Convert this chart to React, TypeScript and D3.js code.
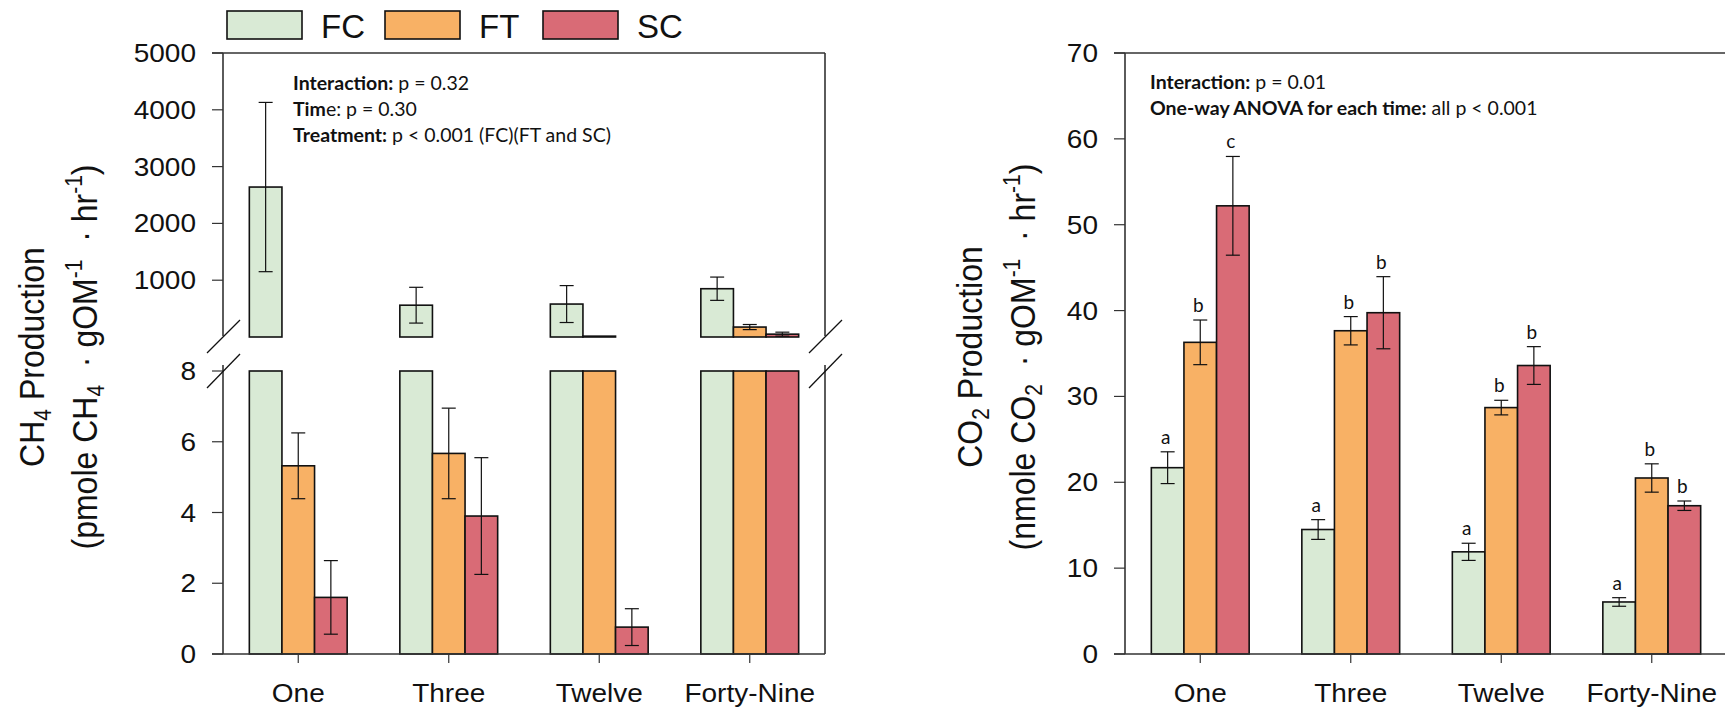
import React from "react";
import * as d3 from "d3";

const categories = ["One", "Three", "Twelve", "Forty-Nine"];
const treatments = ["FC", "FT", "SC"];
const colors = ["#d9ead5", "#f8b165", "#d96b76"];

// CH4 production (pmole CH4 · gOM-1 · hr-1)
const ch4FC = [2640, 560, 580, 850];
const ch4FCErr = [1490, 315, 325, 205];
const ch4FT = [5.32, 5.67, 15, 175];
const ch4FTErr = [0.93, 1.28, 0, 45];
const ch4SC = [1.6, 3.9, 0.76, 50];
const ch4SCErr = [1.04, 1.65, 0.52, 35];

// CO2 production (nmole CO2 · gOM-1 · hr-1)
const co2FC = [21.7, 14.5, 11.9, 6.06];
const co2FCErr = [1.85, 1.15, 1.0, 0.5];
const co2FT = [36.3, 37.65, 28.7, 20.5];
const co2FTErr = [2.6, 1.65, 0.85, 1.65];
const co2SC = [52.2, 39.75, 33.6, 17.27];
const co2SCErr = [5.75, 4.2, 2.2, 0.55];
const co2LettersFC = ["a", "a", "a", "a"];
const co2LettersFT = ["b", "b", "b", "b"];
const co2LettersSC = ["c", "b", "b", "b"];

const ch4UpperTicks = [1000, 2000, 3000, 4000, 5000];
const ch4LowerTicks = [0, 2, 4, 6, 8];
const co2Ticks = [0, 10, 20, 30, 40, 50, 60, 70];

const ch4Means = [ch4FC, ch4FT, ch4SC];
const ch4Errs = [ch4FCErr, ch4FTErr, ch4SCErr];
const co2Means = [co2FC, co2FT, co2SC];
const co2Errs = [co2FCErr, co2FTErr, co2SCErr];
const co2Letters = [co2LettersFC, co2LettersFT, co2LettersSC];

const AX = "#333";
const TICK_FONT = "'Liberation Sans', Arial, sans-serif";
const NOTE_FONT = "Lato, 'Open Sans', sans-serif";
const SX = 1.12; // horizontal stretch of the original figure's text

const BREAK = 8;

function XAxis({ x, x0, x1, y }: any) {
  return (
    <g>
      <line x1={x0 - 11} x2={x1} y1={y} y2={y} stroke={AX} strokeWidth={1.6} />
      {categories.map((c) => {
        const cx = (x(c) as number) + x.bandwidth() / 2;
        return (
          <g key={c}>
            <line x1={cx} x2={cx} y1={y} y2={y + 9} stroke={AX} strokeWidth={1.2} />
            <text
              transform={`translate(${cx},${y + 48}) scale(${SX},1)`}
              textAnchor="middle"
              fontFamily={TICK_FONT}
              fontSize={25}
              fill="#111"
            >
              {c}
            </text>
          </g>
        );
      })}
    </g>
  );
}

function YTicks({ y, ticks, x0 }: any) {
  return (
    <g>
      {ticks.map((t: number) => (
        <g key={t}>
          <line x1={x0 - 11} x2={x0} y1={y(t)} y2={y(t)} stroke={AX} strokeWidth={1.2} />
          <text
            transform={`translate(${x0 - 27},${y(t)}) scale(${SX},1)`}
            dy="0.36em"
            textAnchor="end"
            fontFamily={TICK_FONT}
            fontSize={25}
            fill="#111"
          >
            {t}
          </text>
        </g>
      ))}
    </g>
  );
}

function ErrBar({ cx, yTop, yBot }: any) {
  return (
    <g stroke="#111" strokeWidth={1.2}>
      <line x1={cx} x2={cx} y1={yTop} y2={yBot} />
      <line x1={cx - 7} x2={cx + 7} y1={yTop} y2={yTop} />
      <line x1={cx - 7} x2={cx + 7} y1={yBot} y2={yBot} />
    </g>
  );
}

function YTitle({ bx, line1, sub, line2Pre }: any) {
  return (
    <g fontFamily={TICK_FONT} fontSize={32} fill="#111">
      <text transform={`translate(${bx},357) rotate(-90) scale(1,${SX})`} textAnchor="middle">
        {line1}
        <tspan fontSize={21} dy={6}>{sub}</tspan>
        <tspan dy={-6}> Production</tspan>
      </text>
      <text transform={`translate(${bx + 53},357) rotate(-90) scale(1,${SX})`} textAnchor="middle">
        {line2Pre}
        <tspan fontSize={21} dy={6}>{sub}</tspan>
        <tspan dy={-6}>{"\u00a0 · gOM"}</tspan>
        <tspan fontSize={21} dy={-13}>-1</tspan>
        <tspan dy={13}>{"\u00a0 · hr"}</tspan>
        <tspan fontSize={21} dy={-13}>-1</tspan>
        <tspan dy={13}>)</tspan>
      </text>
    </g>
  );
}

function LeftPanel() {
  const x0 = 223, x1 = 825;
  const x = d3.scaleBand<string>().domain(categories).range([x0, x1]);
  const inner = d3
    .scaleBand<string>()
    .domain(treatments)
    .range([x.bandwidth() * 0.175, x.bandwidth() * 0.825]);
  const yU = d3.scaleLinear().domain([0, 5000]).range([337, 53]);
  const yL = d3.scaleLinear().domain([0, BREAK]).range([654, 371]);

  const bars: any[] = [];
  const errs: any[] = [];
  treatments.forEach((tr, si) => {
    categories.forEach((c, ci) => {
      const v = ch4Means[si][ci];
      const e = ch4Errs[si][ci];
      const bx = (x(c) as number) + (inner(tr) as number);
      const bw = inner.bandwidth();
      const cx = bx + bw / 2;
      const vl = Math.min(v, BREAK);
      bars.push(
        <rect key={`l${si}${ci}`} x={bx} y={yL(vl)} width={bw} height={yL(0) - yL(vl)} fill={colors[si]} stroke="#111" strokeWidth={1.6} />
      );
      if (v < BREAK) {
        errs.push(<ErrBar key={`le${si}${ci}`} cx={cx} yTop={yL(v + e)} yBot={yL(v - e)} />);
      } else {
        bars.push(
          <rect key={`u${si}${ci}`} x={bx} y={yU(v)} width={bw} height={Math.max(0, yU(0) - yU(v))} fill={colors[si]} stroke="#111" strokeWidth={1.6} />
        );
        if (e > 0) errs.push(<ErrBar key={`ue${si}${ci}`} cx={cx} yTop={yU(v + e)} yBot={yU(v - e)} />);
      }
    });
  });

  const brk = (bx: number) => (
    <g stroke="#111" strokeWidth={1.3}>
      <line x1={bx - 16} y1={353} x2={bx + 17} y2={320} />
      <line x1={bx - 16} y1={388} x2={bx + 17} y2={354} />
    </g>
  );

  return (
    <g>
      <line x1={x0 - 11} x2={x1} y1={53} y2={53} stroke={AX} strokeWidth={1.6} />
      <line x1={x0} x2={x0} y1={53} y2={336} stroke={AX} strokeWidth={1.6} />
      <line x1={x0} x2={x0} y1={365} y2={654} stroke={AX} strokeWidth={1.6} />
      <line x1={x1} x2={x1} y1={53} y2={336} stroke={AX} strokeWidth={1.6} />
      <line x1={x1} x2={x1} y1={365} y2={654} stroke={AX} strokeWidth={1.6} />
      {bars}
      {errs}
      <XAxis x={x} x0={x0} x1={x1} y={654} />
      <YTicks y={yU} ticks={ch4UpperTicks} x0={x0} />
      <YTicks y={yL} ticks={ch4LowerTicks} x0={x0} />
      {brk(x0)}
      {brk(x1)}
      <g fontFamily={NOTE_FONT} fontSize={19.5} fill="#111">
        <text x={293} y={90}>
          <tspan fontWeight="bold">Interaction:</tspan> p = 0.32
        </text>
        <text x={293} y={116}>
          <tspan fontWeight="bold">Tim</tspan>e: p = 0.30
        </text>
        <text x={293} y={142}>
          <tspan fontWeight="bold">Treatment:</tspan> p &lt; 0.001 (FC)(FT and SC)
        </text>
      </g>
      <YTitle bx={44} line1="CH" sub="4" line2Pre="(pmole CH" />
    </g>
  );
}

function RightPanel() {
  const x0 = 1125, x1 = 1727;
  const x = d3.scaleBand<string>().domain(categories).range([x0, x1]);
  const inner = d3
    .scaleBand<string>()
    .domain(treatments)
    .range([x.bandwidth() * 0.175, x.bandwidth() * 0.825]);
  const y = d3.scaleLinear().domain([0, 70]).range([654, 53]);

  const bars: any[] = [];
  const errs: any[] = [];
  const letters: any[] = [];
  treatments.forEach((tr, si) => {
    categories.forEach((c, ci) => {
      const v = co2Means[si][ci];
      const e = co2Errs[si][ci];
      const bx = (x(c) as number) + (inner(tr) as number);
      const bw = inner.bandwidth();
      const cx = bx + bw / 2;
      bars.push(
        <rect key={`b${si}${ci}`} x={bx} y={y(v)} width={bw} height={y(0) - y(v)} fill={colors[si]} stroke="#111" strokeWidth={1.6} />
      );
      errs.push(<ErrBar key={`e${si}${ci}`} cx={cx} yTop={y(v + e)} yBot={y(v - e)} />);
      letters.push(
        <text key={`t${si}${ci}`} x={cx - 2} y={y(v + e) - 8} textAnchor="middle" fontFamily={NOTE_FONT} fontSize={19} fill="#111">
          {co2Letters[si][ci]}
        </text>
      );
    });
  });

  return (
    <g>
      <line x1={x0 - 11} x2={x1} y1={53} y2={53} stroke={AX} strokeWidth={1.6} />
      <line x1={x0} x2={x0} y1={53} y2={654} stroke={AX} strokeWidth={1.6} />
      <line x1={x1} x2={x1} y1={53} y2={654} stroke={AX} strokeWidth={1.6} />
      {bars}
      {errs}
      {letters}
      <XAxis x={x} x0={x0} x1={x1} y={654} />
      <YTicks y={y} ticks={co2Ticks} x0={x0} />
      <g fontFamily={NOTE_FONT} fontSize={19.5} fill="#111">
        <text x={1150} y={89}>
          <tspan fontWeight="bold">Interaction:</tspan> p = 0.01
        </text>
        <text x={1150} y={115}>
          <tspan fontWeight="bold">One-way ANOVA for each time:</tspan> all p &lt; 0.001
        </text>
      </g>
      <YTitle bx={982} line1="CO" sub="2" line2Pre="(nmole CO" />
    </g>
  );
}

function Legend() {
  const boxX = d3.scaleOrdinal<string, number>().domain(treatments).range([227, 385, 543]);
  return (
    <g>
      {treatments.map((t, i) => (
        <g key={t}>
          <rect x={boxX(t)} y={11} width={75} height={28} fill={colors[i]} stroke="#111" strokeWidth={1.6} />
          <text x={boxX(t) + 94} y={38} fontFamily={TICK_FONT} fontSize={33} fill="#111">
            {t}
          </text>
        </g>
      ))}
    </g>
  );
}

export default function App() {
  return (
    <svg
      width={1725}
      height={711}
      style={{ position: "absolute", left: 0, top: 0, background: "#fff" }}
    >
      <rect width={1725} height={711} fill="#fff" />
      <Legend />
      <LeftPanel />
      <RightPanel />
    </svg>
  );
}
